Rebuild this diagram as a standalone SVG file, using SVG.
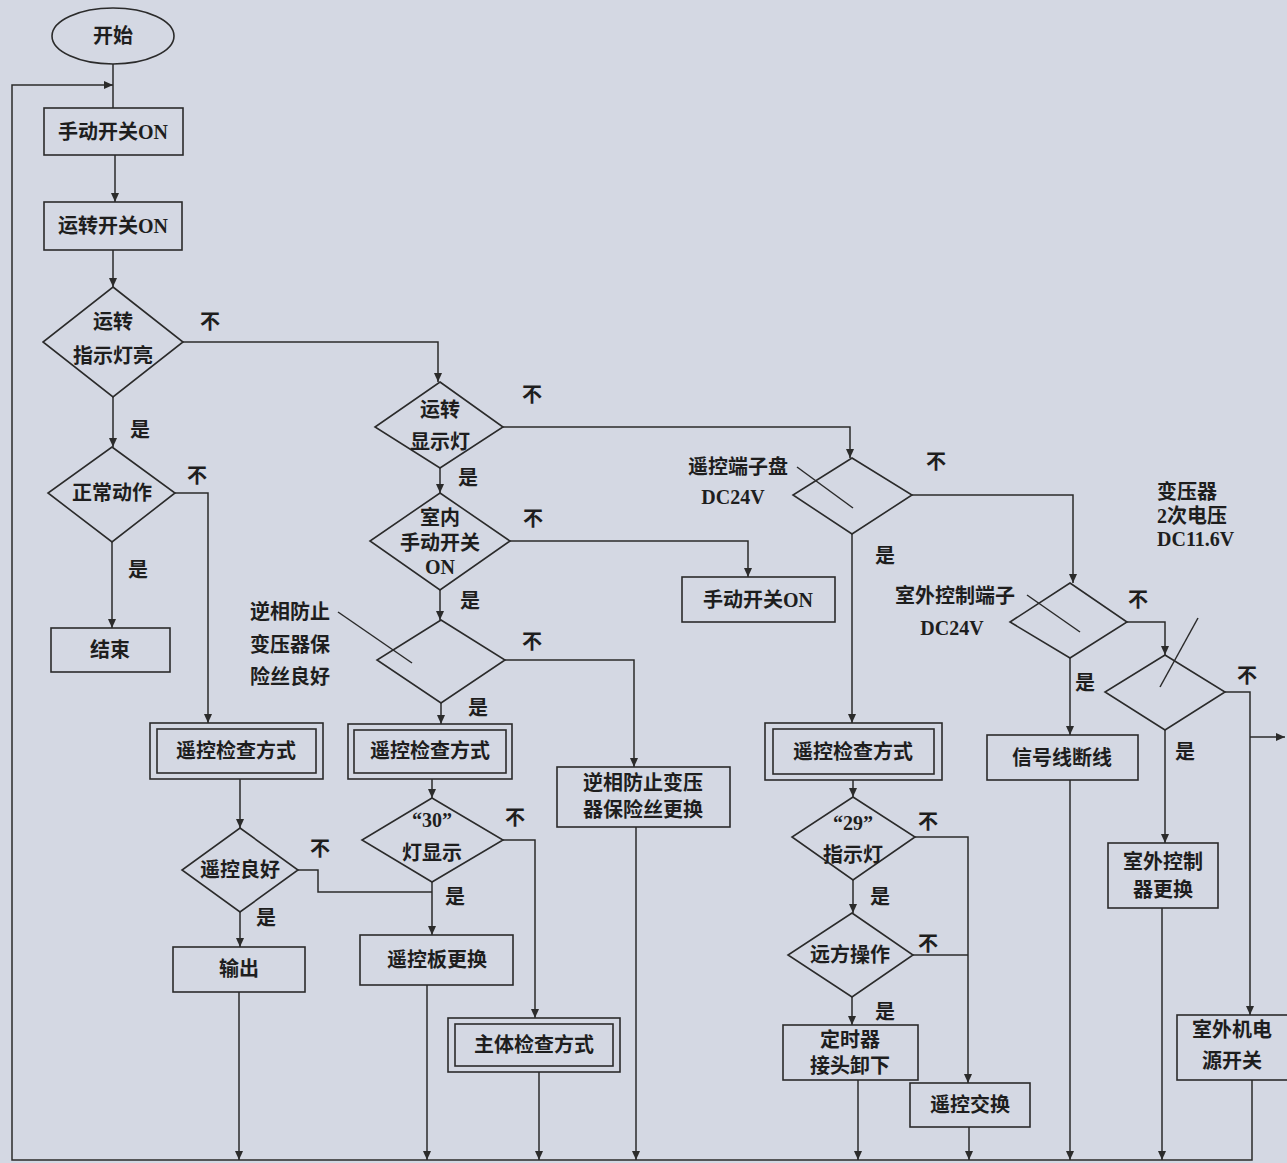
<svg xmlns="http://www.w3.org/2000/svg" width="1287" height="1163" viewBox="0 0 1287 1163">
<defs>
<marker id="ar" markerWidth="9" markerHeight="8" refX="9" refY="4" orient="auto" markerUnits="userSpaceOnUse">
<path d="M0,0 L9,4 L0,8 z" fill="#2b2b2b"/>
</marker>
<style>
.s{fill:none;stroke:#2b2b2b;stroke-width:1.6}
.c{fill:none;stroke:#2b2b2b;stroke-width:1.5;marker-end:url(#ar)}
.n{fill:none;stroke:#2b2b2b;stroke-width:1.5}
text{font-family:"Liberation Serif","Noto Sans CJK SC",serif;font-size:20px;fill:#1e1e1e;text-anchor:middle;dominant-baseline:central;font-weight:bold}
.l{text-anchor:start}
</style>
</defs>
<rect width="1287" height="1163" fill="#d4d8e3"/>

<g id="connectors">
<path class="c" d="M1252,1080 V1160 H12 V85 H113"/>
<path class="n" d="M113,64 V108"/>
<path class="c" d="M115,155 V202"/>
<path class="c" d="M113,250 V287"/>
<path class="c" d="M183,342 H438 V382"/>
<path class="c" d="M113,397 V447"/>
<path class="c" d="M112,542 V628"/>
<path class="c" d="M175,493 H208 V723"/>
<path class="c" d="M240,779 V828"/>
<path class="c" d="M240,912 V947"/>
<path class="n" d="M298,870 H318 V892 H432"/>
<path class="c" d="M239,992 V1160"/>
<path class="c" d="M503,427 H850 V458"/>
<path class="c" d="M440,468 V493"/>
<path class="c" d="M510,541 H748 V577"/>
<path class="c" d="M440,590 V620"/>
<path class="c" d="M505,660 H634 V767"/>
<path class="c" d="M441,703 V724"/>
<path class="c" d="M432,779 V798"/>
<path class="c" d="M432,882 V935"/>
<path class="c" d="M503,840 H535 V1018"/>
<path class="c" d="M427,985 V1160"/>
<path class="c" d="M539,1072 V1160"/>
<path class="c" d="M636,827 V1160"/>
<path class="c" d="M852,534 V723"/>
<path class="c" d="M912,495 H1073 V583"/>
<path class="c" d="M853,780 V797"/>
<path class="c" d="M853,880 V913"/>
<path class="c" d="M915,837 H968 V1083"/>
<path class="n" d="M913,955 H968"/>
<path class="c" d="M852,997 V1025"/>
<path class="c" d="M858,1080 V1160"/>
<path class="c" d="M969,1127 V1160"/>
<path class="c" d="M1070,658 V735"/>
<path class="c" d="M1127,622 H1165 V655"/>
<path class="c" d="M1070,780 V1160"/>
<path class="c" d="M1165,730 V843"/>
<path class="c" d="M1225,692 H1250 V1015"/>
<path class="c" d="M1250,737 H1285"/>
<path class="c" d="M1162,908 V1160"/>
<path class="n" d="M338,612 L412,663"/>
<path class="n" d="M797,467 L853,508"/>
<path class="n" d="M1027,595 L1080,632"/>
<path class="n" d="M1198,618 L1160,687"/>
</g>

<g id="labels">
<text x="210" y="322">不</text>
<text x="140" y="430">是</text>
<text x="197" y="476">不</text>
<text x="138" y="570">是</text>
<text x="320" y="849">不</text>
<text x="266" y="918">是</text>
<text x="532" y="395">不</text>
<text x="468" y="478">是</text>
<text x="533" y="519">不</text>
<text x="470" y="601">是</text>
<text x="532" y="642">不</text>
<text x="478" y="708">是</text>
<text x="515" y="818">不</text>
<text x="455" y="897">是</text>
<text x="936" y="462">不</text>
<text x="885" y="556">是</text>
<text x="928" y="822">不</text>
<text x="880" y="897">是</text>
<text x="928" y="944">不</text>
<text x="885" y="1012">是</text>
<text x="1138" y="600">不</text>
<text x="1085" y="683">是</text>
<text x="1247" y="676">不</text>
<text x="1185" y="752">是</text>
<text x="290" y="612">逆相防止</text>
<text x="290" y="645">变压器保</text>
<text x="290" y="677">险丝良好</text>
<text x="738" y="467">遥控端子盘</text>
<text x="733" y="497">DC24V</text>
<text x="955" y="596">室外控制端子</text>
<text x="952" y="628">DC24V</text>
<text class="l" x="1157" y="492">变压器</text>
<text class="l" x="1157" y="516">2次电压</text>
<text class="l" x="1157" y="539">DC11.6V</text>
</g>

<g id="start"><ellipse class="s" cx="113" cy="36" rx="61" ry="28"/><text x="113" y="36">开始</text></g>
<g id="manual-on"><rect class="s" x="44" y="108" width="139" height="47"/><text x="113" y="132">手动开关ON</text></g>
<g id="run-on"><rect class="s" x="44" y="202" width="138" height="48"/><text x="113" y="226">运转开关ON</text></g>
<g id="run-lamp"><polygon class="s" points="113,287 183,342 113,397 43,342"/><text x="113" y="322">运转</text><text x="113" y="356">指示灯亮</text></g>
<g id="normal"><polygon class="s" points="112,447 175,493 112,542 48,493"/><text x="112" y="493">正常动作</text></g>
<g id="end"><rect class="s" x="51" y="628" width="119" height="44"/><text x="110" y="650">结束</text></g>
<g id="rc-check-1"><rect class="s" x="150" y="723" width="173" height="56"/><rect class="s" x="157" y="729" width="159" height="44"/><text x="236" y="751">遥控检查方式</text></g>
<g id="rc-good"><polygon class="s" points="240,828 298,870 240,912 182,870"/><text x="240" y="870">遥控良好</text></g>
<g id="output"><rect class="s" x="173" y="947" width="132" height="45"/><text x="239" y="969">输出</text></g>
<g id="run-display"><polygon class="s" points="440,382 503,427 440,468 375,427"/><text x="440" y="410">运转</text><text x="440" y="442">显示灯</text></g>
<g id="indoor-switch"><polygon class="s" points="440,493 510,541 440,590 370,541"/><text x="440" y="518">室内</text><text x="440" y="543">手动开关</text><text x="440" y="567">ON</text></g>
<g id="manual-on-2"><rect class="s" x="682" y="577" width="153" height="45"/><text x="758" y="600">手动开关ON</text></g>
<g id="fuse-check"><polygon class="s" points="441,620 505,660 441,703 377,660"/></g>
<g id="rc-check-2"><rect class="s" x="348" y="724" width="164" height="55"/><rect class="s" x="354" y="730" width="152" height="43"/><text x="430" y="751">遥控检查方式</text></g>
<g id="lamp-30"><polygon class="s" points="432,798 503,840 432,882 362,840"/><text x="432" y="820">“30”</text><text x="432" y="853">灯显示</text></g>
<g id="rc-board"><rect class="s" x="360" y="935" width="153" height="50"/><text x="437" y="960">遥控板更换</text></g>
<g id="main-check"><rect class="s" x="448" y="1018" width="172" height="54"/><rect class="s" x="455" y="1024" width="158" height="42"/><text x="534" y="1045">主体检查方式</text></g>
<g id="fuse-replace"><rect class="s" x="557" y="767" width="173" height="60"/><text x="643" y="783">逆相防止变压</text><text x="643" y="810">器保险丝更换</text></g>
<g id="terminal-24v"><polygon class="s" points="852,458 912,495 852,534 793,495"/></g>
<g id="rc-check-3"><rect class="s" x="765" y="723" width="177" height="57"/><rect class="s" x="773" y="729" width="161" height="45"/><text x="853" y="752">遥控检查方式</text></g>
<g id="lamp-29"><polygon class="s" points="853,797 915,837 853,880 792,837"/><text x="853" y="823">“29”</text><text x="853" y="855">指示灯</text></g>
<g id="remote-op"><polygon class="s" points="852,913 913,955 852,997 788,955"/><text x="850" y="955">远方操作</text></g>
<g id="timer"><rect class="s" x="783" y="1025" width="135" height="55"/><text x="850" y="1040">定时器</text><text x="850" y="1066">接头卸下</text></g>
<g id="rc-swap"><rect class="s" x="910" y="1083" width="120" height="44"/><text x="970" y="1105">遥控交换</text></g>
<g id="outdoor-terminal"><polygon class="s" points="1070,583 1127,622 1070,658 1010,622"/></g>
<g id="signal-break"><rect class="s" x="987" y="735" width="151" height="45"/><text x="1062" y="758">信号线断线</text></g>
<g id="transformer"><polygon class="s" points="1165,655 1225,692 1165,730 1105,692"/></g>
<g id="ctrl-replace"><rect class="s" x="1108" y="843" width="110" height="65"/><text x="1163" y="862">室外控制</text><text x="1163" y="890">器更换</text></g>
<g id="outdoor-power"><rect class="s" x="1177" y="1015" width="115" height="65"/><text x="1232" y="1030">室外机电</text><text x="1232" y="1061">源开关</text></g>
</svg>
